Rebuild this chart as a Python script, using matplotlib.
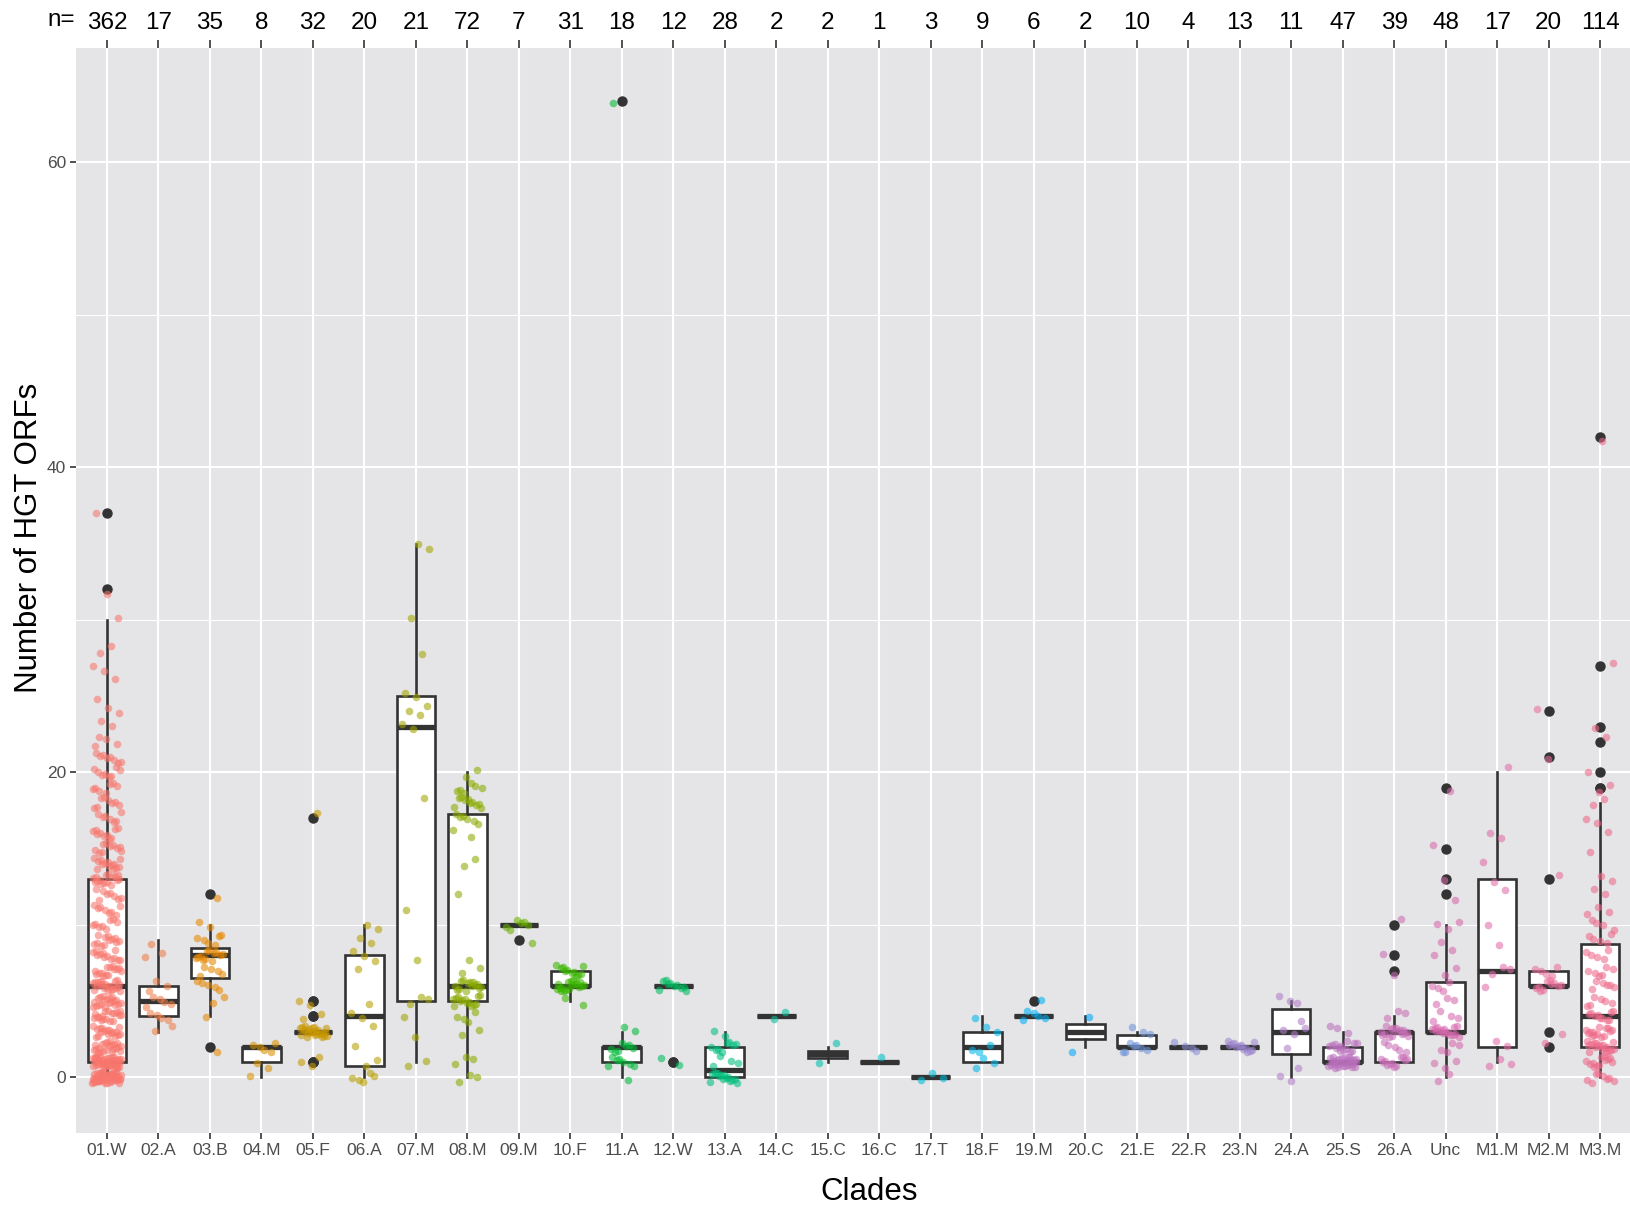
import numpy as np
import matplotlib.pyplot as plt

plt.rcParams['font.family'] = ['Liberation Sans', 'DejaVu Sans']

# clades on the x axis
clades = ["01.W", "02.A", "03.B", "04.M", "05.F", "06.A", "07.M", "08.M", "09.M", "10.F",
          "11.A", "12.W", "13.A", "14.C", "15.C", "16.C", "17.T", "18.F", "19.M", "20.C",
          "21.E", "22.R", "23.N", "24.A", "25.S", "26.A", "Unc", "M1.M", "M2.M", "M3.M"]

# number of HGT ORFs per genome (value, count) for the big clades
w01 = np.repeat([0, 1, 2, 3, 4, 5, 6, 7, 8, 9, 10, 11, 12, 13, 14, 15, 16, 17, 18, 19, 20,
                 21, 22, 23, 24, 25, 26, 27, 28, 30, 32, 37],
                [50, 45, 22, 18, 18, 20, 22, 14, 12, 12, 8, 8, 8, 16, 14, 10, 10, 7, 8, 7, 8,
                 8, 4, 2, 2, 1, 1, 2, 2, 1, 1, 1])
a02 = [3, 3, 4, 4, 4, 4, 5, 5, 5, 5, 5, 6, 6, 6, 8, 8, 9]
b03 = np.repeat([2, 4, 5, 6, 7, 8, 9, 10, 12], [1, 1, 2, 5, 5, 12, 6, 2, 1])
m04 = [0, 1, 1, 2, 2, 2, 2, 2]
f05 = np.repeat([1, 3, 4, 5, 17], [3, 24, 2, 2, 1])
a06 = [0, 0, 0, 0, 0, 1, 1, 2, 3, 4, 4, 5, 7, 8, 8, 8, 9, 9, 10, 10]
m07 = [1, 1, 3, 4, 5, 5, 5, 8, 11, 18, 23, 23, 24, 24, 24, 25, 25, 28, 30, 35, 35]
m08 = np.repeat([0, 1, 3, 4, 5, 6, 7, 8, 12, 14, 16, 17, 18, 19, 20],
                [3, 3, 2, 4, 14, 14, 2, 1, 1, 2, 2, 6, 10, 6, 2])
m09 = [9, 10, 10, 10, 10, 10, 10]
f10 = np.repeat([5, 6, 7], [2, 18, 11])
a11 = [0, 1, 1, 1, 1, 1, 1, 1, 2, 2, 2, 2, 2, 2, 2, 3, 3, 64]
w12 = np.repeat([1, 6], [2, 10])
a13 = np.repeat([0, 1, 2, 3], [14, 4, 8, 2])
c14 = [4, 4]
c15 = [1, 2]
c16 = [1]
t17 = [0, 0, 0]
f18 = [1, 1, 1, 2, 2, 2, 3, 3, 4]
m19 = [4, 4, 4, 4, 4, 5]
c20 = [2, 4]
e21 = [2, 2, 2, 2, 2, 2, 2, 3, 3, 3]
r22 = [2, 2, 2, 2]
n23 = np.repeat([2], [13])
a24 = [0, 0, 1, 2, 3, 3, 3, 4, 5, 5, 5]
s25 = np.repeat([1, 2, 3], [30, 14, 3])
a26 = np.repeat([1, 2, 3, 4, 7, 8, 10], [12, 5, 16, 3, 1, 1, 1])
unc = np.repeat([0, 1, 2, 3, 4, 5, 6, 7, 8, 9, 10, 12, 13, 15, 19],
                [2, 3, 4, 16, 4, 3, 4, 2, 2, 1, 3, 1, 1, 1, 1])
m1m = [1, 1, 1, 2, 2, 6, 7, 7, 7, 9, 10, 12, 13, 14, 16, 16, 20]
m2m = [2, 3, 6, 6, 6, 6, 6, 6, 6, 6, 6, 6, 7, 7, 7, 7, 7, 13, 21, 24]
m3m = np.repeat([0, 1, 2, 3, 4, 5, 6, 7, 8, 9, 10, 11, 12, 13, 15, 16, 17, 18, 19, 20,
                 22, 23, 27, 42],
                [8, 12, 18, 14, 10, 6, 6, 6, 5, 5, 4, 3, 2, 2, 1, 1, 2, 2, 2, 1,
                 1, 1, 1, 1])

orf_counts = [w01, a02, b03, m04, f05, a06, m07, m08, m09, f10, a11, w12, a13, c14, c15,
              c16, t17, f18, m19, c20, e21, r22, n23, a24, s25, a26, unc, m1m, m2m, m3m]
orf_counts = [np.asarray(v, dtype=float) for v in orf_counts]


def hue_pal(n, c=100, l=65):
    # ggplot-like hue palette
    xn, yn, zn = 0.95047, 1.0, 1.08883
    un = 4 * xn / (xn + 15 * yn + 3 * zn)
    vn = 9 * yn / (xn + 15 * yn + 3 * zn)
    m = np.array([[3.2404542, -1.5371385, -0.4985314],
                  [-0.9692660, 1.8760108, 0.0415560],
                  [0.0556434, -0.2040259, 1.0572252]])
    Y = ((l + 16) / 116) ** 3
    cols = []
    for h in np.linspace(15, 375, n + 1)[:-1]:
        hr = np.deg2rad(h)
        u, v = c * np.cos(hr), c * np.sin(hr)
        up = u / (13 * l) + un
        vp = v / (13 * l) + vn
        X = Y * 9 * up / (4 * vp)
        Z = Y * (12 - 3 * up - 20 * vp) / (4 * vp)
        lin = np.clip(m @ np.array([X, Y, Z]), 0, 1)
        rgb = np.where(lin <= 0.0031308, 12.92 * lin, 1.055 * lin ** (1 / 2.4) - 0.055)
        cols.append(tuple(np.clip(rgb, 0, 1)))
    return cols


colors = hue_pal(len(clades))
# the blue/purple/pink end looks more muted in the original
colors[20:] = ["#6F94D8", "#8A8DD4", "#9C85CE", "#AE7CC6", "#BA70BC", "#C86EB5",
               "#D76AAE", "#E26DA8", "#EA6E9A", "#EF6A8A"]
pos = np.arange(len(clades))

fig = plt.figure(figsize=(16.31, 12.13), dpi=100)
ax = fig.add_axes([76 / 1631, 80 / 1213, 1555 / 1631, 1085 / 1213])
ax.set_facecolor('#E5E5E7')
for s in ax.spines.values():
    s.set_visible(False)

ax.set_axisbelow(True)
ax.set_yticks([0, 20, 40, 60])
ax.set_yticks([10, 30, 50], minor=True)
ax.grid(True, which='major', color='white', linewidth=1.5)
ax.grid(True, which='minor', axis='y', color='white', linewidth=0.75)

ax.boxplot(orf_counts, positions=pos, widths=0.75, whis=1.5, patch_artist=True,
           showcaps=False,
           boxprops=dict(facecolor='white', edgecolor='#333333', linewidth=1.9),
           whiskerprops=dict(color='#333333', linewidth=1.9),
           medianprops=dict(color='#333333', linewidth=3.8, solid_capstyle='butt'),
           flierprops=dict(marker='o', markerfacecolor='#333333', markeredgecolor='#333333',
                           markersize=6.5),
           zorder=2)

# deterministic jitter
for j, (vals, col) in enumerate(zip(orf_counts, colors)):
    i = np.arange(len(vals))
    dx = ((i * 0.6180339887 + j * 0.37) % 1 - 0.5) * 2 * 0.28
    dy = ((i * 0.4142135624 + j * 0.53) % 1 - 0.5) * 2 * 0.38
    ax.scatter(pos[j] + dx, vals + dy, s=30, color=col, alpha=0.58, linewidths=0, zorder=3)

ax.set_xlim(-0.6, len(clades) - 0.4)
ax.set_ylim(-3.65, 67.5)
ax.set_xticks(pos)
ax.set_xticklabels(clades)
ax.tick_params(axis='both', which='major', length=4, width=1.2, color='#333333',
               labelcolor='#4D4D4D', labelsize=12.5, pad=3)
ax.tick_params(axis='y', which='minor', length=0)

top = ax.secondary_xaxis('top')
top.set_xticks(pos)
top.set_xticklabels([str(len(v)) for v in orf_counts])
top.tick_params(length=6, width=1.2, color='#333333', labelcolor='black', labelsize=17.5, pad=4)
for s in top.spines.values():
    s.set_visible(False)
fig.text(61 / 1631, 1 - 20 / 1213, "n=", ha='center', va='center', fontsize=17.5)

fig.text(869 / 1631, 1 - 1192 / 1213, "Clades", ha='center', va='center', fontsize=22.5)
fig.text(29 / 1631, 1 - 538 / 1213, "Number of HGT ORFs", ha='center', va='center',
         rotation=90, fontsize=22.5)

fig.savefig("out.png", dpi=100)
